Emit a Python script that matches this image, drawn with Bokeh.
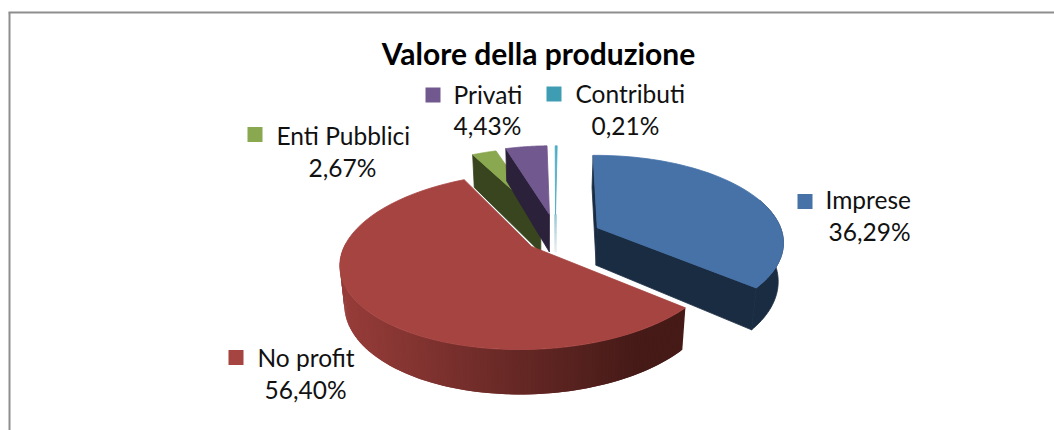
import math
from bokeh.plotting import figure
from bokeh.models import ColumnDataSource, Range1d
from bokeh.core.properties import value
from bokeh.embed import file_html
from bokeh.resources import INLINE

# ---- data ----
categories = ["Imprese", "No profit", "Enti Pubblici", "Privati", "Contributi"]
shares = [36.29, 56.40, 2.67, 4.43, 0.21]
chart_title = "Valore della produzione"

# ---- styles ----
top_colors = ["#4672A8", "#A64441", "#8AA84F", "#71588F", "#4BACC6"]
wall_colors = ["#1A2C42", "#451A17", "#38451F", "#2B213A", "#9CCAD6"]
key_colors = ["#4672A8", "#A64441", "#8AA84F", "#71588F", "#3F9DB3"]
FONT = "Lato"

# ---- pie geometry (pixel space of the picture) ----
W, H = 1054, 430
START = -1.0
K, RX, RY = 0.165, 189.0, 87.0
DEPTH = 37.5
X0, A, C = 560.8, 42.2, -4.77
Y0, B, D = 234.5, 20.49, 1.84
SCALE = [0.97, 0.99, 0.90, 0.92, 0.92]
SKEW = [10.0, -60.0, 0.0, -15.0, -30.0]

# label layout
key_pos = [(797, 193.5), (228, 349.5), (247, 126.5), (425, 87), (546, 86)]
name_pos = [(825, 199), (257, 357), (276, 135), (453, 94), (575, 93)]
pct_pos = [(869, 231), (305, 389), (342, 167), (487, 125), (625, 125)]

p = figure(width=W, height=H, output_backend="svg", toolbar_location=None,
           x_range=Range1d(0, W), y_range=Range1d(H, 0),
           min_border=0, outline_line_color=None)
p.axis.visible = False
p.grid.visible = False
p.background_fill_color = "white"
p.border_fill_color = "white"

xs, ys, fills, strokes = [], [], [], []


def add(poly, color, stroke=1.0):
    xs.append([q[0] for q in poly])
    ys.append([q[1] for q in poly])
    fills.append(color)
    strokes.append(stroke)


def mix(c1, c2, t):
    a = [int(c1[i:i + 2], 16) for i in (1, 3, 5)]
    b = [int(c2[i:i + 2], 16) for i in (1, 3, 5)]
    return "#%02x%02x%02x" % tuple(round(a[i] + (b[i] - a[i]) * t) for i in range(3))


def top_pt(ax, ay, s, sk, theta):
    t = math.radians(theta)
    u, v = math.sin(t), -math.cos(t)
    w = 1 - K * v
    return (ax + s * RX * u / w + sk * (1 / w - 1), ay + s * RY * v / w)


def drop(pt, theta=None):
    v = 0.0 if theta is None else -math.cos(math.radians(theta))
    w = 1 - K * v
    return (pt[0] - 0.022 * (pt[0] - 545), pt[1] + DEPTH / w)


def arc(a0, a1, n=60):
    return [(a0 + (a1 - a0) * i / n) for i in range(n + 1)]


total = sum(shares)
angles = []
cur = START
for v in shares:
    angles.append((cur, cur + v / total * 360))
    cur += v / total * 360

draw_order = [2, 3, 4, 0, 1]
for i in draw_order:
    a0, a1 = angles[i]
    mid = math.radians((a0 + a1) / 2)
    ms, mc = math.sin(mid), math.cos(mid)
    ax = X0 + A * ms + C * mc
    ay = Y0 - B * mc + D * ms
    s = SCALE[i]
    sk = SKEW[i]
    apex = (ax, ay)
    apex_b = drop(apex)
    if i == 0:      # Imprese: start-edge strip, end-edge face, rim
        pa = top_pt(ax, ay, s, sk, a0)
        add([pa, apex, apex_b, drop(pa, a0)], wall_colors[0])
        pe = top_pt(ax, ay, s, sk, a1)
        add([apex, pe, drop(pe, a1), apex_b], wall_colors[0])
        th = arc(70, a1)
        up = [top_pt(ax, ay, s, sk, t) for t in th]
        dn = [drop(top_pt(ax, ay, s, sk, t), t) for t in th]
        add(up + dn[::-1], wall_colors[0])
    elif i == 1:    # No profit: shaded rim, painted right to left in overlapping bands
        th = arc(a0, 272, 150)
        for j in range(len(th) - 1):
            t0, t1 = th[j], th[min(j + 2, len(th) - 1)]
            xm = top_pt(ax, ay, s, sk, th[j])[0]
            f = max(0.0, min(1.0, (640 - xm) / (640 - 345)))
            col = mix("#451A17", "#963C39", f)
            add([top_pt(ax, ay, s, sk, t0), top_pt(ax, ay, s, sk, t1),
                 drop(top_pt(ax, ay, s, sk, t1), t1),
                 drop(top_pt(ax, ay, s, sk, t0), t0)], col, 0.0)
    elif i == 4:    # Contributi: thin fading sliver
        n = 12
        for j in range(n):
            add([(ax - 0.8, ay + j * DEPTH / n), (ax + 0.8, ay + j * DEPTH / n),
                 (ax + 0.8, ay + (j + 1) * DEPTH / n), (ax - 0.8, ay + (j + 1) * DEPTH / n)],
                mix("#9CCAD6", "#F2F2F2", j / n))
    else:           # Enti Pubblici, Privati: start-edge face
        pa = top_pt(ax, ay, s, sk, a0)
        add([pa, apex, apex_b, drop(pa, a0)], wall_colors[i])
    th = arc(a0, a1, 6 if i == 4 else 60)
    add([apex] + [top_pt(ax, ay, s, sk, t) for t in th], top_colors[i])

src = ColumnDataSource(dict(xs=xs, ys=ys, fill=fills, la=strokes))
p.patches("xs", "ys", source=src, fill_color="fill", line_color="fill", line_alpha="la",
          line_width=0.8)

# legend keys
kx = [k[0] for k in key_pos]
ky = [k[1] for k in key_pos]
p.quad(left=kx, right=[x + 15 for x in kx], top=ky, bottom=[y + 15 for y in ky],
       fill_color=key_colors, line_color=None)

# frame
p.line([9, 9], [430, 12], line_color="#8E8E8E", line_width=2)
p.line([8, 1054], [12, 12], line_color="#8E8E8E", line_width=2)

# labels
p.text(x=[n[0] for n in name_pos], y=[n[1] for n in name_pos], text=categories,
       text_font=value(FONT), text_font_size="24.5px", text_color="#111111",
       text_align="left", text_baseline="middle")
pcts = [("%.2f" % v).replace(".", ",") + "%" for v in shares]
p.text(x=[n[0] for n in pct_pos], y=[n[1] for n in pct_pos], text=pcts,
       text_font=value(FONT), text_font_size="24.5px", text_color="#111111",
       text_align="center", text_baseline="middle")
p.text(x=[538], y=[52], text=[chart_title], text_font=value(FONT), text_font_size="30px",
       text_font_style="bold", text_color="#000000", text_align="center", text_baseline="middle")

open("out.html", "w").write(file_html(p, INLINE))
